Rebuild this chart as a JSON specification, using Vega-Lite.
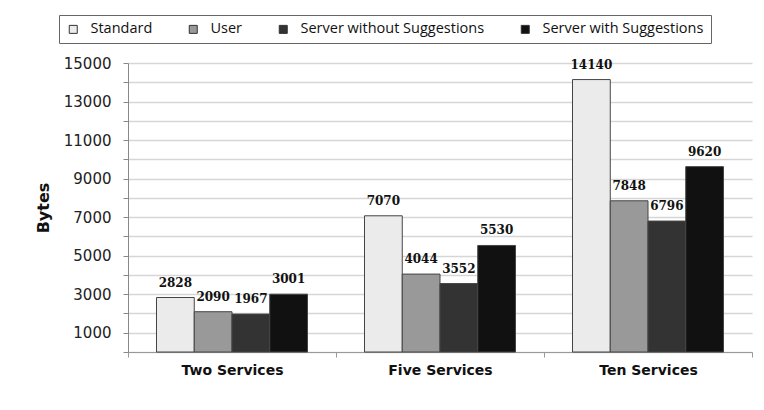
{
  "$schema": "https://vega.github.io/schema/vega-lite/v6.json",
  "width": 624,
  "height": 289,
  "autosize": {"type": "none"},
  "padding": {"left": 128, "top": 63, "right": 12, "bottom": 58},
  "background": "white",
  "config": {"view": {"stroke": null}},
  "data": {
    "values": [
      {"group": "Two Services", "series": "Standard", "bytes": 2828},
      {"group": "Two Services", "series": "User", "bytes": 2090},
      {"group": "Two Services", "series": "Server without Suggestions", "bytes": 1967},
      {"group": "Two Services", "series": "Server with Suggestions", "bytes": 3001},
      {"group": "Five Services", "series": "Standard", "bytes": 7070},
      {"group": "Five Services", "series": "User", "bytes": 4044},
      {"group": "Five Services", "series": "Server without Suggestions", "bytes": 3552},
      {"group": "Five Services", "series": "Server with Suggestions", "bytes": 5530},
      {"group": "Ten Services", "series": "Standard", "bytes": 14140},
      {"group": "Ten Services", "series": "User", "bytes": 7848},
      {"group": "Ten Services", "series": "Server without Suggestions", "bytes": 6796},
      {"group": "Ten Services", "series": "Server with Suggestions", "bytes": 9620}
    ]
  },
  "encoding": {
    "x": {
      "field": "group",
      "type": "nominal",
      "sort": ["Two Services", "Five Services", "Ten Services"],
      "scale": {"paddingInner": 0, "paddingOuter": 0},
      "axis": {
        "title": null,
        "labelAngle": 0,
        "tickBand": "extent",
        "tickSize": 5,
        "domainColor": "#999999",
        "tickColor": "#999999",
        "labelFont": "DejaVu Sans",
        "labelFontWeight": "bold",
        "labelFontSize": 14,
        "labelPadding": 6,
        "labelColor": "#111111",
        "grid": false
      }
    },
    "xOffset": {
      "field": "series",
      "type": "nominal",
      "sort": ["Standard", "User", "Server without Suggestions", "Server with Suggestions"],
      "scale": {"paddingInner": 0, "paddingOuter": 0.755}
    },
    "y": {
      "field": "bytes",
      "type": "quantitative",
      "scale": {"domain": [0, 15000], "nice": false},
      "axis": {
        "values": [0, 1000, 2000, 3000, 4000, 5000, 6000, 7000, 8000, 9000, 10000, 11000, 12000, 13000, 14000, 15000],
        "labelExpr": "datum.value % 2000 == 1000 ? datum.label : ''",
        "format": "d",
        "grid": true,
        "gridColor": "#d6d6d6",
        "gridWidth": 1.5,
        "domainColor": "#888888",
        "tickColor": "#888888",
        "tickSize": 5,
        "labelPadding": 12,
        "labelFont": "DejaVu Sans",
        "labelFontSize": 15,
        "labelColor": "#222222",
        "title": "Bytes",
        "titleFont": "DejaVu Sans",
        "titleFontSize": 16,
        "titleFontWeight": "bold",
        "titleColor": "#111111",
        "titlePadding": 12
      }
    }
  },
  "layer": [
    {
      "mark": {"type": "bar", "stroke": "#444444", "strokeWidth": 1},
      "encoding": {
        "color": {
          "field": "series",
          "type": "nominal",
          "sort": ["Standard", "User", "Server without Suggestions", "Server with Suggestions"],
          "scale": {
            "domain": ["Standard", "User", "Server without Suggestions", "Server with Suggestions"],
            "range": ["#ebebeb", "#999999", "#333333", "#111111"]
          },
          "legend": {
            "orient": "none",
            "legendX": -69,
            "legendY": -48,
            "direction": "horizontal",
            "title": null,
            "strokeColor": "#666666",
            "fillColor": "white",
            "padding": 7,
            "symbolType": "square",
            "symbolSize": 64,
            "symbolStrokeColor": "#333333",
            "symbolStrokeWidth": 1,
            "labelFont": "Open Sans",
            "labelFontSize": 14.5,
            "labelLimit": 0,
            "labelColor": "#111111",
            "columnPadding": 33,
            "labelOffset": 10
          }
        }
      }
    },
    {
      "mark": {"type": "text", "baseline": "bottom", "dy": -8, "font": "DejaVu Serif", "fontWeight": "bold", "fontSize": 12, "color": "#111111"},
      "encoding": {"text": {"field": "bytes", "type": "quantitative", "format": "d"}}
    }
  ]
}
